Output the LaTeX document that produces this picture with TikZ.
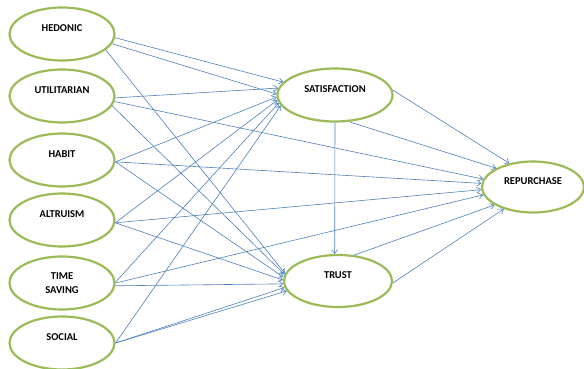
\documentclass[tikz,border=0pt]{standalone}
\usepackage{fontspec}
\setmainfont{Carlito}
\usetikzlibrary{arrows.meta,shapes.geometric}
\definecolor{ovgreen}{RGB}{155,187,89}
\definecolor{arblue}{RGB}{79,129,189}
\tikzset{
  ov/.style={ellipse, draw=ovgreen, line width=2.2pt, inner sep=0pt,
    minimum width=105pt, minimum height=53pt},
  lbl/.style={font=\fontsize{10.5}{14}\selectfont\bfseries, text=black, yshift=6pt, align=center},
  conn/.style={draw=arblue, line width=0.6pt, -{Straight Barb[length=4pt,width=6pt]}}
}
\begin{document}
\begin{tikzpicture}[x=1pt,y=-1pt]
\fill[white] (0,0) rectangle (584,369);
\useasboundingbox (0,0) rectangle (584,369);
\node[ov, label={[lbl]center:HEDONIC}] (hed) at (62,34) {};
\node[ov, label={[lbl]center:UTILITARIAN}] (uti) at (62,96) {};
\node[ov, label={[lbl]center:HABIT}] (hab) at (62,160) {};
\node[ov, label={[lbl]center:ALTRUISM}] (alt) at (62,220) {};
\node[ov, label={[lbl,yshift=-6pt]center:TIME\\SAVING}] (tim) at (62,283) {};
\node[ov, label={[lbl]center:SOCIAL}] (soc) at (62,343) {};
\node[ov, minimum width=115pt, label={[lbl]center:SATISFACTION}] (sat) at (335,95) {};
\node[ov, minimum width=108pt, minimum height=52pt, label={[lbl]center:TRUST}] (tru) at (338,281) {};
\node[ov, minimum width=102pt, minimum height=51pt, label={[lbl]center:REPURCHASE}] (rep) at (533,187) {};

\draw[conn] (hed.-4) -- (sat.166);
\draw[conn] (hed.-11) -- (sat.179);
\draw[conn] (hed.-20) -- (tru.172);
\draw[conn] (uti.-2) -- (sat.173);
\draw[conn] (uti.-6) -- (rep.171);
\draw[conn] (uti.-11) -- (tru.173);
\draw[conn] (hab.-2) -- (sat.182);
\draw[conn] (hab.-2) -- (rep.176);
\draw[conn] (hab.-2) -- (tru.176);
\draw[conn] (alt.-3) -- (sat.185);
\draw[conn] (alt.-3) -- (rep.183);
\draw[conn] (alt.-3) -- (tru.179);
\draw[conn] (tim.1) -- (sat.188);
\draw[conn] (tim.0) -- (rep.189);
\draw[conn] (tim.-3) -- (tru.183);
\draw[conn] (soc.0) -- (sat.191);
\draw[conn] (soc.0) -- (tru.187);
\draw[conn] (soc.0) -- (tru.191);
\draw[conn] (sat.5) -- (rep.135);
\draw[conn] (sat.-62) -- (rep.153);
\draw[conn] (sat.south) -- (tru.97);
\draw[conn] (tru.58) -- (rep.205);
\draw[conn] (tru.-2) -- (rep.217);
\end{tikzpicture}
\end{document}
